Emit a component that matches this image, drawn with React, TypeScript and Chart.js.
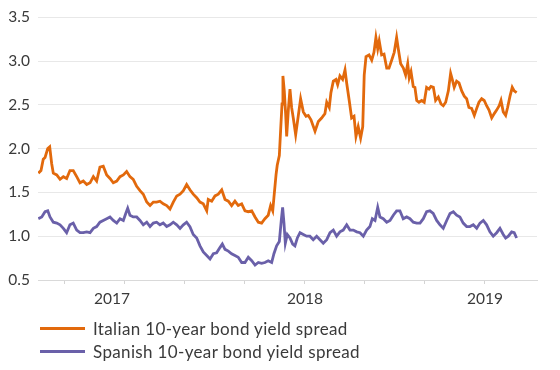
import React, { useEffect, useRef } from 'react';
import { Chart, registerables } from 'chart.js';

Chart.register(...registerables);

// x values: months since Jan 2016 (Jan 2017 = 12, Jan 2018 = 24, Jan 2019 = 36)
const italianMonths = [
  6.22, 6.4, 6.55, 6.67, 6.85, 6.98, 7.11, 7.22, 7.45, 7.67, 7.89, 8.11, 8.33, 8.55, 8.78, 9.0, 9.22, 9.45, 9.67, 9.89,
  10.11, 10.33, 10.55, 10.78, 11.0, 11.22, 11.45, 11.67, 11.89, 12.11, 12.33, 12.55, 12.78, 13.0, 13.22, 13.45, 13.67,
  13.89, 14.11, 14.33, 14.55, 14.78, 15.0, 15.22, 15.45, 15.67, 15.89, 16.11, 16.33, 16.55, 16.78, 17.0, 17.22, 17.45,
  17.55, 17.78, 18.0, 18.22, 18.45, 18.67, 18.89, 19.11, 19.33, 19.55, 19.78, 20.0, 20.22, 20.45, 20.67, 20.89, 21.11,
  21.33, 21.55, 21.71, 21.85, 21.93, 22.07, 22.15, 22.29, 22.38, 22.47, 22.53, 22.62, 22.71, 22.78, 22.89, 23.0, 23.11,
  23.22, 23.38, 23.55, 23.71, 23.89, 24.07, 24.22, 24.4, 24.67, 24.89, 25.11, 25.33, 25.45, 25.62, 25.73, 25.89, 26.07,
  26.18, 26.33, 26.51, 26.67, 26.78, 26.95, 27.11, 27.27, 27.4, 27.55, 27.71, 27.85, 27.95, 28.07, 28.27, 28.45, 28.6,
  28.73, 28.85, 28.95, 29.11, 29.27, 29.45, 29.6, 29.78, 29.95, 30.11, 30.22, 30.38, 30.56, 30.71, 30.85, 30.95, 31.07,
  31.22, 31.33, 31.45, 31.6, 31.78, 31.95, 32.11, 32.27, 32.4, 32.56, 32.71, 32.89, 33.07, 33.22, 33.38, 33.56, 33.71,
  33.82, 33.95, 34.11, 34.27, 34.45, 34.62, 34.78, 34.93, 35.11, 35.29, 35.45, 35.6, 35.78, 35.95, 36.11, 36.27, 36.45,
  36.62, 36.78, 36.95, 37.07, 37.22, 37.38, 37.51, 37.67, 37.82, 37.95, 38.11,
];
const italianSpread = [
  1.72, 1.75, 1.88, 1.9, 2.0, 2.02, 1.83, 1.72, 1.7, 1.65, 1.68, 1.66, 1.75, 1.75, 1.68, 1.61, 1.63, 1.59, 1.61, 1.68,
  1.63, 1.79, 1.8, 1.7, 1.66, 1.61, 1.63, 1.68, 1.7, 1.74, 1.68, 1.65, 1.57, 1.52, 1.48, 1.39, 1.35,
  1.39, 1.39, 1.4, 1.37, 1.35, 1.31, 1.39, 1.46, 1.48, 1.52, 1.59, 1.53, 1.48, 1.44, 1.39, 1.37, 1.29,
  1.42, 1.4, 1.46, 1.48, 1.53, 1.42, 1.4, 1.35, 1.4, 1.35, 1.37, 1.29, 1.28, 1.29, 1.22, 1.16, 1.15,
  1.2, 1.24, 1.35, 1.29, 1.44, 1.7, 1.81, 1.92, 2.22, 2.51, 2.83, 2.66, 2.4, 2.14, 2.44, 2.68, 2.47,
  2.35, 2.16, 2.37, 2.57, 2.42, 2.37, 2.38, 2.33, 2.2, 2.31, 2.35, 2.4, 2.53, 2.47, 2.64, 2.77, 2.79,
  2.73, 2.83, 2.79, 2.9, 2.75, 2.55, 2.35, 2.37, 2.14, 2.25, 2.12, 2.25, 2.84, 3.05, 3.07, 3.01, 3.1,
  3.27, 3.14, 3.23, 3.07, 3.08, 2.92, 2.92, 3.01, 3.1, 3.27, 3.14, 2.97, 2.92, 2.84, 2.97, 2.81, 2.88,
  2.71, 2.7, 2.55, 2.53, 2.55, 2.53, 2.7, 2.68, 2.71, 2.7, 2.55, 2.59, 2.51, 2.49, 2.53, 2.66, 2.86,
  2.79, 2.7, 2.77, 2.75, 2.66, 2.6, 2.57, 2.47, 2.46, 2.38, 2.46, 2.53, 2.57, 2.55, 2.49, 2.44, 2.35,
  2.4, 2.44, 2.49, 2.55, 2.42, 2.38, 2.47, 2.6, 2.7, 2.66, 2.64,
];

const spanishMonths = [
  6.22, 6.45, 6.67, 6.85, 7.0, 7.22, 7.45, 7.67, 7.89, 8.11, 8.33, 8.55, 8.78, 9.0, 9.22, 9.45, 9.67, 9.89, 10.11, 10.33,
  10.55, 10.78, 11.0, 11.22, 11.45, 11.67, 11.89, 12.05, 12.18, 12.33, 12.55, 12.78, 13.0, 13.22, 13.45, 13.67, 13.89,
  14.11, 14.33, 14.55, 14.78, 15.0, 15.22, 15.45, 15.67, 15.89, 16.11, 16.33, 16.55, 16.78, 17.0, 17.22, 17.45, 17.67,
  17.89, 18.11, 18.33, 18.49, 18.67, 18.89, 19.11, 19.33, 19.55, 19.78, 20.0, 20.22, 20.45, 20.67, 20.89, 21.11, 21.33,
  21.55, 21.78, 21.93, 22.11, 22.29, 22.42, 22.51, 22.6, 22.69, 22.82, 23.0, 23.18, 23.33, 23.49, 23.67, 23.89, 24.11,
  24.33, 24.55, 24.78, 25.0, 25.22, 25.45, 25.67, 25.89, 26.11, 26.33, 26.55, 26.78, 27.0, 27.22, 27.45, 27.67, 27.89,
  28.11, 28.33, 28.49, 28.67, 28.85, 29.0, 29.22, 29.45, 29.67, 29.89, 30.11, 30.33, 30.55, 30.78, 31.0, 31.22, 31.45,
  31.67, 31.89, 32.11, 32.33, 32.55, 32.78, 33.0, 33.22, 33.45, 33.67, 33.89, 34.11, 34.33, 34.55, 34.78, 35.0, 35.22,
  35.45, 35.67, 35.89, 36.11, 36.33, 36.55, 36.78, 37.0, 37.22, 37.38, 37.56, 37.78, 37.95, 38.11,
];
const spanishSpread = [
  1.2, 1.22, 1.28, 1.29, 1.22, 1.16, 1.15, 1.13, 1.09, 1.04, 1.13, 1.15, 1.07, 1.04, 1.04, 1.05, 1.04, 1.09, 1.11, 1.16,
  1.18, 1.2, 1.22, 1.18, 1.15, 1.2, 1.18, 1.26, 1.32, 1.24, 1.22, 1.22, 1.18, 1.13, 1.16, 1.11, 1.15,
  1.16, 1.13, 1.15, 1.11, 1.13, 1.16, 1.13, 1.09, 1.13, 1.16, 1.11, 1.02, 0.98, 0.89, 0.82, 0.78, 0.74,
  0.8, 0.81, 0.87, 0.91, 0.85, 0.83, 0.8, 0.78, 0.76, 0.7, 0.7, 0.76, 0.72, 0.67, 0.7, 0.69, 0.7,
  0.72, 0.7, 0.8, 0.89, 0.94, 1.18, 1.33, 1.15, 0.92, 1.02, 0.98, 0.91, 0.89, 0.98, 1.04, 1.02, 1.0,
  1.0, 0.96, 1.0, 0.96, 0.92, 0.96, 1.04, 1.07, 1.0, 1.05, 1.07, 1.13, 1.07, 1.07, 1.05, 1.04, 1.0,
  1.07, 1.11, 1.2, 1.18, 1.33, 1.22, 1.2, 1.16, 1.18, 1.24, 1.29, 1.29, 1.2, 1.22, 1.2, 1.16, 1.15,
  1.15, 1.2, 1.28, 1.29, 1.26, 1.18, 1.13, 1.09, 1.18, 1.26, 1.28, 1.24, 1.22, 1.15, 1.11, 1.11, 1.13,
  1.09, 1.15, 1.18, 1.13, 1.05, 1.0, 1.04, 1.09, 1.02, 0.98, 1.0, 1.05, 1.04, 0.98,
];

const yTickValues = [0.5, 1.0, 1.5, 2.0, 2.5, 3.0, 3.5];
const xTickMonths = [8, 12, 16, 20, 24, 28, 32, 36];
const yearLabels = ['2017', '2018', '2019'];
const yearLabelMonths = [11.13, 24, 36];

const seriesNames = ['Italian 10-year bond yield spread', 'Spanish 10-year bond yield spread'];
const ORANGE = '#E2690C';
const PURPLE = '#6A60A9';
const TEXT = '#3a3a3a';
const FONT = 'Lato, "Open Sans", sans-serif';

export default function App() {
  const ref = useRef<HTMLCanvasElement>(null);

  useEffect(() => {
    document.body.style.margin = '0';
    const canvas = ref.current;
    if (!canvas) return;
    const chart = new Chart(canvas, {
      type: 'line',
      data: {
        datasets: [
          {
            label: seriesNames[0],
            data: italianMonths.map((x, i) => ({ x, y: italianSpread[i] })),
            borderColor: ORANGE,
            backgroundColor: ORANGE,
            borderWidth: 2.8,
            pointRadius: 0,
            tension: 0,
          },
          {
            label: seriesNames[1],
            data: spanishMonths.map((x, i) => ({ x, y: spanishSpread[i] })),
            borderColor: PURPLE,
            backgroundColor: PURPLE,
            borderWidth: 2.8,
            pointRadius: 0,
            tension: 0,
          },
        ],
      },
      options: {
        animation: false,
        responsive: false,
        maintainAspectRatio: false,
        layout: { padding: { top: 9, right: 23, left: 0, bottom: 0 } },
        plugins: { legend: { display: false }, tooltip: { enabled: false } },
        scales: {
          x: {
            type: 'linear',
            min: 6.2,
            max: 39.47,
            afterBuildTicks: (s: any) => {
              const vals = Array.from(new Set([...xTickMonths, ...yearLabelMonths])).sort((a, b) => a - b);
              s.ticks = vals.map((v) => ({ value: v }));
            },
            afterFit: (s: any) => {
              s.height = 40;
            },
            ticks: {
              autoSkip: false,
              maxRotation: 0,
              minRotation: 0,
              padding: 6,
              color: TEXT,
              font: { family: FONT, size: 15.5 },
              callback: (v: any) => {
                const i = yearLabelMonths.indexOf(Number(v));
                return i >= 0 ? yearLabels[i] : '';
              },
            },
            grid: {
              drawOnChartArea: false,
              tickLength: 4,
              tickColor: (ctx: any) =>
                ctx.tick && xTickMonths.includes(ctx.tick.value) ? '#d4d4d4' : 'rgba(0,0,0,0)',
            },
            border: { display: true, color: '#d9d9d9', width: 1 },
          },
          y: {
            min: 0.5,
            max: 3.5,
            afterBuildTicks: (s: any) => {
              s.ticks = yTickValues.map((v) => ({ value: v }));
            },
            afterFit: (s: any) => {
              s.width = 38;
            },
            ticks: {
              padding: 8,
              color: TEXT,
              font: { family: FONT, size: 15.5 },
              callback: (v: any) => Number(v).toFixed(1),
            },
            grid: { color: '#e8e8e8', drawTicks: false },
            border: { display: false },
          },
        },
      },
    });
    return () => chart.destroy();
  }, []);

  const legendColors = [ORANGE, PURPLE];
  return (
    <div style={{ position: 'fixed', left: 0, top: 0, width: 560, height: 370, background: '#fff' }}>
      <canvas ref={ref} width={560} height={320} style={{ position: 'absolute', left: 0, top: 0, width: 560, height: 320 }} />
      {seriesNames.map((name, i) => (
        <div
          key={name}
          style={{
            position: 'absolute',
            left: 40,
            top: 318 + i * 23,
            height: 20,
            display: 'flex',
            alignItems: 'center',
            fontFamily: FONT,
            fontSize: 17,
            letterSpacing: 0.35,
            color: TEXT,
            whiteSpace: 'nowrap',
          }}
        >
          <span style={{ display: 'inline-block', width: 45, height: 3, background: legendColors[i], marginRight: 8 }} />
          <span>{name}</span>
        </div>
      ))}
    </div>
  );
}
